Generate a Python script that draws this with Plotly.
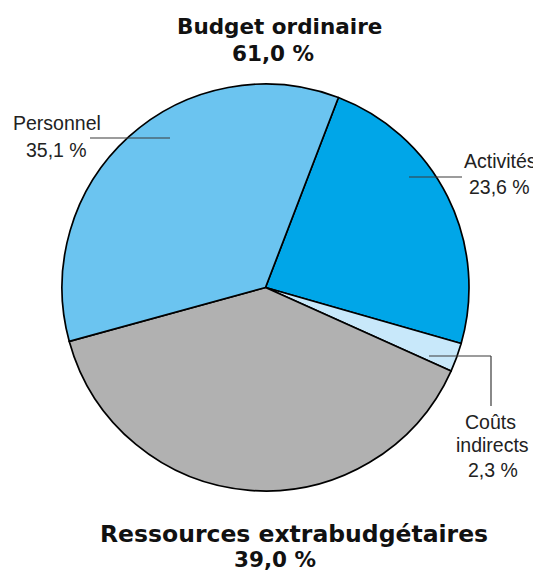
import plotly.graph_objects as go

labels = ["Activités", "Coûts indirects", "Ressources extrabudgétaires", "Personnel"]
values = [23.6, 2.3, 39.0, 35.1]
colors = ["#00A6E8", "#C8E8FA", "#B1B1B1", "#6BC4F0"]

# The page body has an 8px margin: shrink the figure and shift everything by it
OFF = 8
W, H = 541 - OFF, 572 - OFF
cx, cy, r = 265.5 - OFF, 287.5 - OFF, 203.5


def px(x):
    return (x - OFF) / W


def py(y):
    return 1 - (y - OFF) / H


fig = go.Figure(go.Pie(
    labels=labels,
    values=values,
    sort=False,
    direction="clockwise",
    rotation=21,
    marker=dict(colors=colors, line=dict(color="black", width=1.7)),
    textinfo="none",
    hoverinfo="label+percent",
    showlegend=False,
    domain=dict(x=[(cx - r) / W, (cx + r) / W], y=[1 - (cy + r) / H, 1 - (cy - r) / H]),
))

BOLD = "DejaVu Sans, Verdana, sans-serif"
REG = "Liberation Sans, Arial, sans-serif"

# (text, center x, baseline y, size, family, bold)
texts = [
    ("Budget ordinaire", 279, 34, 21.5, BOLD, True),
    ("61,0 %", 272.5, 61, 21.5, BOLD, True),
    ("Ressources extrabudgétaires", 293.5, 542, 23.5, BOLD, True),
    ("39,0 %", 274.5, 567, 21.5, BOLD, True),
    ("Personnel", 56.5, 129, 19.5, REG, False),
    ("35,1 %", 56.5, 156, 19.5, REG, False),
    ("Activités", 500, 167, 19.5, REG, False),
    ("23,6 %", 499.5, 193, 19.5, REG, False),
    ("Coûts", 490, 428, 19.5, REG, False),
    ("indirects", 492.5, 451, 19.5, REG, False),
    ("2,3 %", 492.5, 476, 19.5, REG, False),
]

ann = []
for t, x, base, size, fam, bold in texts:
    ann.append(dict(
        x=px(x), y=py(base - 0.33 * size), xref="paper", yref="paper",
        text=f"<b>{t}</b>" if bold else t,
        showarrow=False, xanchor="center", yanchor="middle",
        font=dict(family=fam, size=size, color="#111111" if bold else "#222222"),
    ))

line = dict(color="#3a3a3a", width=1.2)
segments = [
    (90, 138, 170, 138),
    (409, 177, 462, 177),
    (429, 356, 491, 356),
    (491, 356, 491, 406),
]
shapes = [dict(type="line", xref="paper", yref="paper",
               x0=px(a), y0=py(b), x1=px(c), y1=py(d), line=line)
          for a, b, c, d in segments]

fig.update_layout(
    width=W, height=H,
    margin=dict(l=0, r=0, t=0, b=0),
    paper_bgcolor="white", plot_bgcolor="white",
    annotations=ann, shapes=shapes,
)

fig.write_html("out.html")
